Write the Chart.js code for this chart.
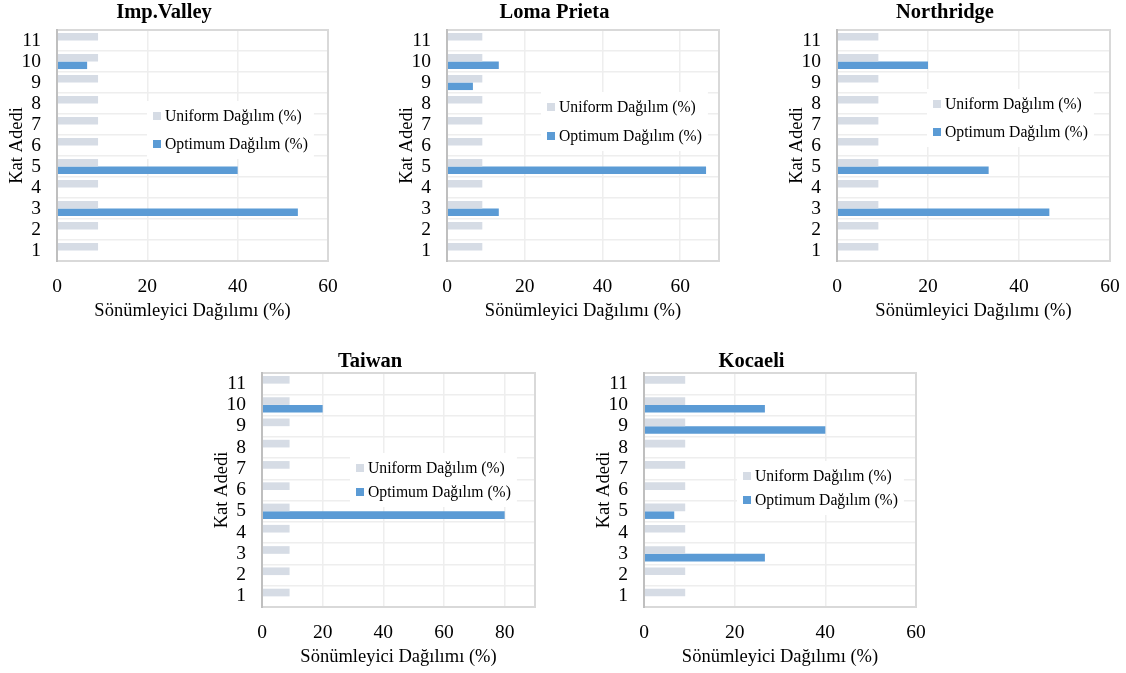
<!DOCTYPE html>
<html>
<head>
<meta charset="utf-8">
<script src="https://cdn.jsdelivr.net/npm/chart.js@4"></script>
<style>
  html, body { margin: 0; padding: 0; background: #fff; overflow: hidden; }
  body { width: 1126px; height: 673px; position: relative; }
  canvas { position: absolute; }
</style>
</head>
<body>
<canvas id="c1"></canvas>
<canvas id="c2"></canvas>
<canvas id="c3"></canvas>
<canvas id="c4"></canvas>
<canvas id="c5"></canvas>
<script>
// floor numbers, bottom to top
const floors = ["1", "2", "3", "4", "5", "6", "7", "8", "9", "10", "11"];

// damper share per floor (%)
const uniform    = [9.09, 9.09, 9.09, 9.09, 9.09, 9.09, 9.09, 9.09, 9.09, 9.09, 9.09];
const impValley  = [0, 0, 53.33, 0, 40, 0, 0, 0, 0, 6.67, 0];
const lomaPrieta = [0, 0, 13.33, 0, 66.67, 0, 0, 0, 6.67, 13.33, 0];
const northridge = [0, 0, 46.67, 0, 33.33, 0, 0, 0, 0, 20, 0];
const taiwan     = [0, 0, 0, 0, 80, 0, 0, 0, 0, 20, 0];
const kocaeli    = [0, 0, 26.67, 0, 6.67, 0, 0, 0, 40, 26.67, 0];

const seriesNames = ["Uniform Dağılım (%)", "Optimum Dağılım (%)"];
const xTitle = "Sönümleyici Dağılımı (%)";
const yTitle = "Kat Adedi";

const FONT = "'Liberation Serif', 'Times New Roman', serif";

const panels = [
  { id: "c1", title: "Imp.Valley", values: impValley, max: 60,
    left: 0, top: 0, width: 392, height: 340, plotTop: 30, plotBottom: 261, plotRight: 328,
    titlePad: 0, legend: { x: 96, y: 82, gap: 28 } },
  { id: "c2", title: "Loma Prieta", values: lomaPrieta, max: 70,
    left: 390, top: 0, width: 374, height: 340, plotTop: 30, plotBottom: 261, plotRight: 719,
    titlePad: 0, legend: { x: 100, y: 73, gap: 29 } },
  { id: "c3", title: "Northridge", values: northridge, max: 60,
    left: 780, top: 0, width: 362, height: 340, plotTop: 30, plotBottom: 261, plotRight: 1110,
    titlePad: 0, legend: { x: 96, y: 70, gap: 28 } },
  { id: "c4", title: "Taiwan", values: taiwan, max: 90,
    left: 205, top: 343, width: 384, height: 330, plotTop: 373, plotBottom: 607, plotRight: 535,
    titlePad: 6.5, legend: { x: 94, y: 91, gap: 24 } },
  { id: "c5", title: "Kocaeli", values: kocaeli, max: 60,
    left: 587, top: 343, width: 356, height: 330, plotTop: 373, plotBottom: 607, plotRight: 916,
    titlePad: 6.5, legend: { x: 99, y: 99, gap: 24 } },
];

// legend sitting inside the plot on a white box
const boxLegend = {
  id: "boxLegend",
  afterDatasetsDraw(chart, args, opts) {
    const { ctx, chartArea: a } = chart;
    const x = a.left + opts.x, y = a.top + opts.y;
    ctx.save();
    ctx.font = "15.7px " + FONT;
    const w = 12 + Math.max(...chart.data.datasets.map(d => ctx.measureText(d.label).width));
    ctx.fillStyle = "#fff";
    ctx.fillRect(x - 6, y - 11, w + 12, opts.gap + 30);
    chart.data.datasets.forEach((d, i) => {
      const ry = y + i * opts.gap;
      ctx.fillStyle = d.backgroundColor;
      ctx.fillRect(x, ry, 8, 8);
      ctx.fillStyle = "#000";
      ctx.textBaseline = "middle";
      ctx.fillText(d.label, x + 12, ry + 4.5);
    });
    ctx.restore();
  }
};

// plot area border, darker on the category axis side
const frame = {
  id: "frame",
  afterDraw(chart) {
    const { ctx, chartArea: a } = chart;
    ctx.save();
    ctx.lineWidth = 2;
    ctx.strokeStyle = "#d9d9d9";
    ctx.beginPath();
    ctx.moveTo(a.left, a.top);
    ctx.lineTo(a.right, a.top);
    ctx.lineTo(a.right, a.bottom);
    ctx.lineTo(a.left, a.bottom);
    ctx.stroke();
    ctx.strokeStyle = "#bfbfbf";
    ctx.beginPath();
    ctx.moveTo(a.left, a.top - 1);
    ctx.lineTo(a.left, a.bottom + 1);
    ctx.stroke();
    ctx.restore();
  }
};

const X_AXIS_H = 66;
const Y_AXIS_W = 57;
const X_STEP = 20;

panels.forEach(p => {
  const canvas = document.getElementById(p.id);
  canvas.width = p.width;
  canvas.height = p.height;
  canvas.style.left = p.left + "px";
  canvas.style.top = p.top + "px";

  new Chart(canvas, {
    type: "bar",
    data: {
      labels: floors.slice().reverse(),
      datasets: [
        { label: seriesNames[0], data: uniform.slice().reverse(), backgroundColor: "#d6dce5" },
        { label: seriesNames[1], data: p.values.slice().reverse(), backgroundColor: "#5b9bd5" },
      ],
    },
    options: {
      indexAxis: "y",
      responsive: false,
      animation: false,
      categoryPercentage: 0.72,
      barPercentage: 1,
      layout: {
        padding: {
          left: 0,
          top: 0,
          right: p.left + p.width - p.plotRight,
          bottom: p.height - (p.plotBottom - p.top) - X_AXIS_H,
        },
      },
      plugins: {
        legend: { display: false },
        tooltip: { enabled: false },
        title: {
          display: true,
          text: p.title,
          color: "#000",
          font: { family: FONT, size: 20.5, weight: "bold" },
          padding: { top: p.titlePad, bottom: p.plotTop - p.top - p.titlePad - 24.6 },
        },
        boxLegend: p.legend,
      },
      scales: {
        x: {
          min: 0,
          max: p.max,
          ticks: { padding: 14, color: "#000", font: { family: FONT, size: 19.5 } },
          // labelled ticks every 20, the axis itself may run past the last one
          afterBuildTicks: s => {
            const t = [];
            for (let v = 0; v <= p.max; v += X_STEP) t.push({ value: v });
            s.ticks = t;
          },
          grid: { color: "#eeeeee", lineWidth: 1.5, drawTicks: false },
          border: { display: false },
          title: { display: true, text: xTitle, color: "#000",
                   font: { family: FONT, size: 18.5 }, padding: { top: 0, bottom: 4.4 } },
          afterFit: s => { s.height = X_AXIS_H; },
        },
        y: {
          ticks: { autoSkip: false, padding: 16, color: "#000", font: { family: FONT, size: 19.5 } },
          grid: { color: "#eeeeee", lineWidth: 1.5, drawTicks: false },
          border: { display: false },
          title: { display: true, text: yTitle, color: "#000",
                   font: { family: FONT, size: 18.5 }, padding: { top: 5.9, bottom: 0 } },
          afterFit: s => { s.width = Y_AXIS_W; },
        },
      },
    },
    plugins: [boxLegend, frame],
  });
});
</script>
</body>
</html>
